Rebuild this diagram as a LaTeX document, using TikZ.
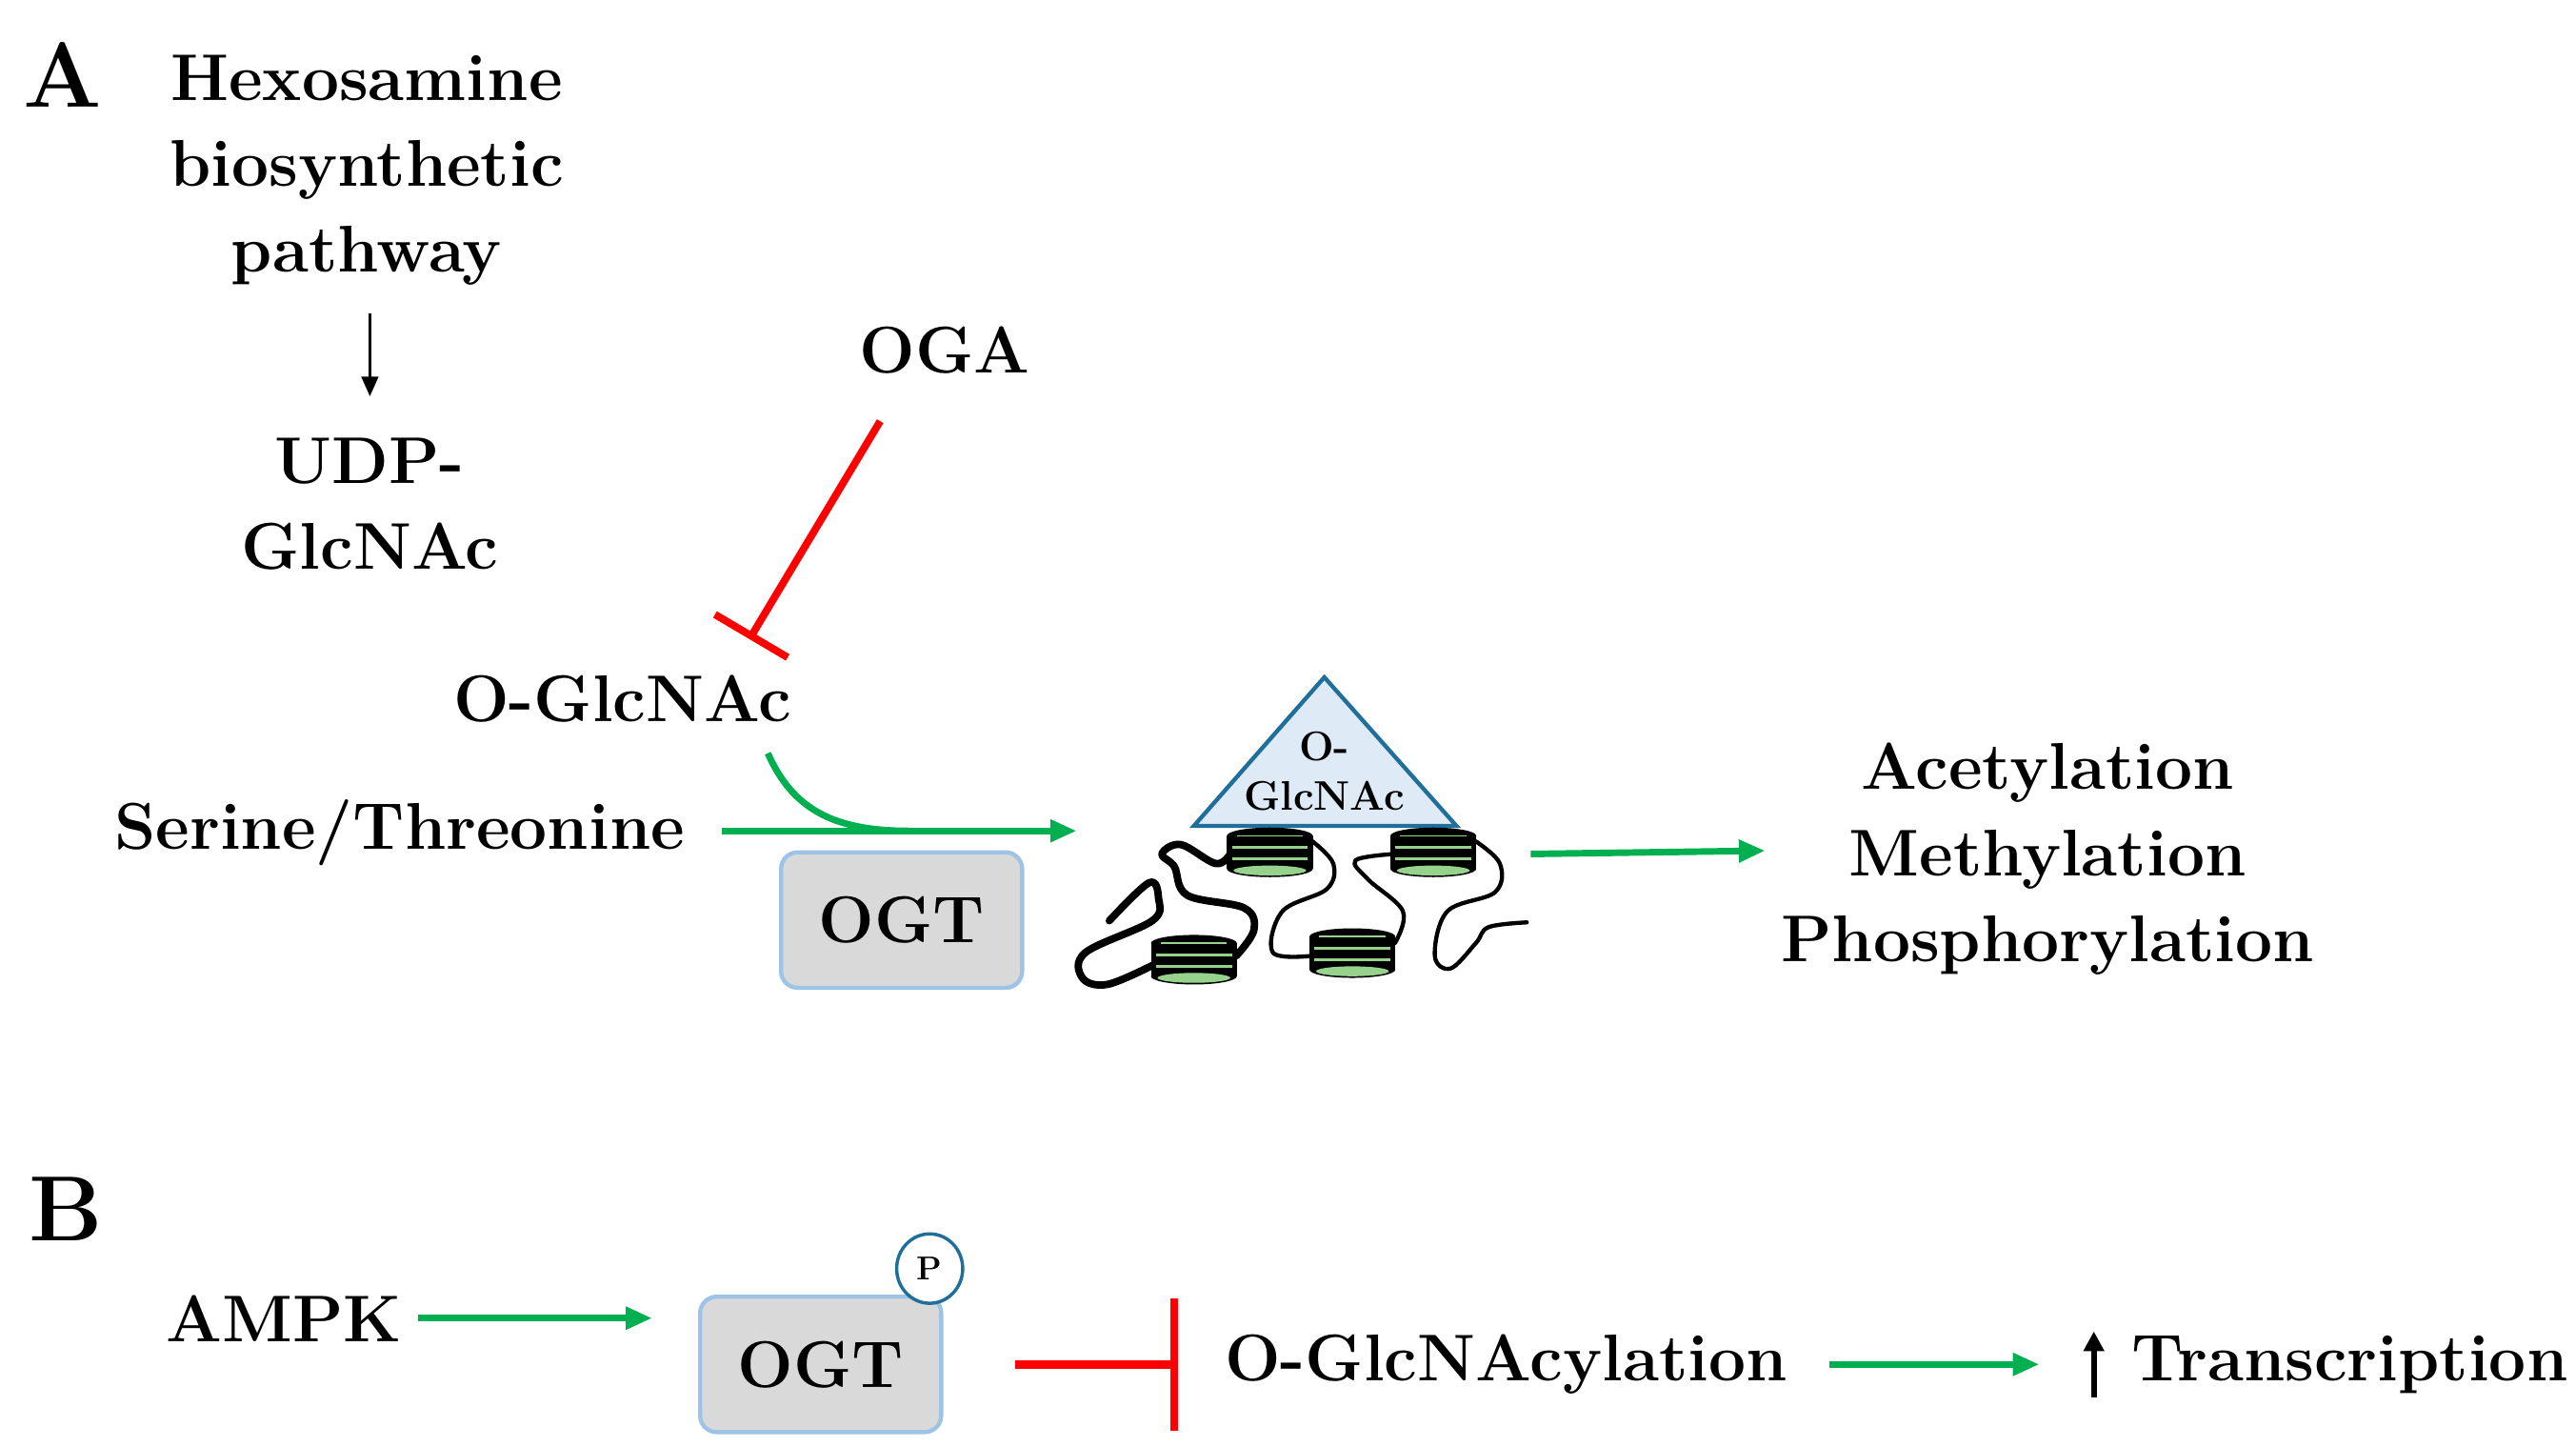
\documentclass[tikz,border=0pt]{standalone}
\usetikzlibrary{arrows.meta,calc,shapes.geometric}
\definecolor{grn}{HTML}{00B050}
\definecolor{rd}{HTML}{FF0000}
\definecolor{boxg}{HTML}{D9D9D9}
\definecolor{boxb}{HTML}{9DC3E6}
\definecolor{trif}{HTML}{DEEBF7}
\definecolor{trid}{HTML}{1F6F9A}
\definecolor{nucg}{HTML}{96D28C}
\begin{document}
\begin{tikzpicture}[x=1pt,y=-1pt,
 txt/.style={font=\fontsize{40}{52}\selectfont\bfseries,align=center,inner sep=0},
 lbl/.style={font=\fontsize{56}{60}\selectfont\bfseries,inner sep=0},
 garr/.style={grn,line width=4pt,-{Triangle[length=16pt,width=13pt]}},
 ogt/.style={draw=boxb,fill=boxg,line width=2.5pt,rounded corners=10pt,minimum width=146pt,minimum height=82pt,font=\fontsize{40}{48}\selectfont\bfseries},
 dna/.style={black,line cap=round,line join=round}]
\useasboundingbox (0,0) rectangle (1560,876);
\node[lbl] (A) at (38,45) {A};
\node[lbl] (B) at (40,732) {B};
\node[txt] (hbp) at (222,103) {Hexosamine\\biosynthetic\\pathway};
\node[txt] (udp) at (224,305) {UDP-\\GlcNAc};
\coordinate (h1) at (224,190); \coordinate (h2) at (224,240);
\draw[line width=2pt,-{Triangle[length=12pt,width=10pt]}] (h1) -- (h2);
\node[txt] (oga) at (572,212) {OGA};
\node[txt] (og) at (377,423) {O-GlcNAc};
\coordinate (r1) at (533,255); \coordinate (r2) at (455,385);
\coordinate (rb3) at (433,372); \coordinate (rb4) at (477,398);
\draw[rd,line width=4.5pt] (r1) -- (r2);
\draw[rd,line width=4.5pt] (rb3) -- (rb4);
\node[txt] (ser) at (242,504) {Serine/Threonine};
\coordinate (s1) at (437,503); \coordinate (s2) at (652,503);
\draw[garr] (s1) -- (s2);
\coordinate (c1) at (465,456); \coordinate (c2) at (550,503);
\draw[grn,line width=4pt] (c1) .. controls (480,490) and (505,503) .. (c2);
\node[ogt] (ogtA) at (546,557) {OGT};
% triangle
\coordinate (t1) at (802,410); \coordinate (t2) at (723,500); \coordinate (t3) at (882,500);
\draw[trid,fill=trif,line width=2.5pt,line join=miter] (t1) -- (t2) -- (t3) -- cycle;
\node[font=\fontsize{25}{30}\selectfont\bfseries,align=center,inner sep=0] (tx) at (802,467) {O-\\GlcNAc};
% DNA
\draw[dna,line width=4.5pt] plot[smooth,tension=0.6] coordinates {(671.8,557.4) (695.9,534.4) (701.6,544) (697.8,557.4) (657.4,576.6) (655.5,592) (670.9,595.9) (700,583.4)};
\draw[dna,line width=4.5pt] plot[smooth,tension=0.6] coordinates {(748.7,578.6) (759.3,563.2) (753.5,549.7) (719,542) (711.2,524.7) (703.6,517) (715.1,511.3) (736.2,522.8) (745,517)};
\draw[dna,line width=2.5pt] plot[smooth,tension=0.6] coordinates {(794.9,509.4) (807.4,522.8) (803.5,538.2) (776.6,551.7) (770.8,576.6) (795,578.6)};
\draw[dna,line width=2.5pt] plot[smooth,tension=0.6] coordinates {(844.8,570.9) (849.6,551.7) (828.5,532.4) (820.8,520.9) (843,517.1)};
\draw[dna,line width=2.5pt] plot[smooth,tension=0.6] coordinates {(893.8,509.4) (908.3,522.8) (905.4,540.1) (876.5,551.7) (868.9,578.6) (878.5,586.3) (893.8,570.9) (901.5,561.3) (924.6,558.4)};
\foreach \n/\x/\y in {n1/769/516,n2/868/516,n3/723/581,n4/819/577}{
 \coordinate (\n) at (\x,\y);
 \fill[black] (\x-26,\y-10) rectangle (\x+26,\y+10);
 \fill[black] (\x,\y-10) ellipse[x radius=26,y radius=5];
 \fill[black] (\x,\y+10) ellipse[x radius=26,y radius=5];
 \fill[nucg] (\x,\y+11) ellipse[x radius=22,y radius=3];
 \draw[nucg,line width=1.5pt] (\x-23,\y-3) -- (\x+23,\y-3);
 \draw[nucg,line width=1.5pt] (\x-23,\y+4) -- (\x+23,\y+4);
 \draw[nucg,line width=1pt] (\x-20,\y-10) -- (\x+20,\y-10);
}
\coordinate (a1) at (927,517); \coordinate (a2) at (1069,515);
\draw[garr] (a1) -- (a2);
\node[txt] (acm) at (1240,520) {Acetylation\\Methylation\\Phosphorylation};
% Panel B
\node[txt] (ampk) at (172,798) {AMPK};
\node[ogt] (ogtB) at (497,826) {OGT};
\coordinate (b1) at (253,798); \coordinate (b2) at (395,798);
\draw[garr] (b1) -- (b2);
\node[draw=trid,fill=white,line width=2pt,ellipse,minimum width=40pt,minimum height=42pt,inner sep=0,font=\fontsize{20}{24}\selectfont\bfseries] (P) at (563,768) {P};
\coordinate (rb1) at (615,826); \coordinate (rb2) at (711,826);
\coordinate (rv1) at (711,786); \coordinate (rv2) at (711,866);
\draw[rd,line width=5pt] (rb1) -- (rb2);
\draw[rd,line width=5pt] (rv1) -- (rv2);
\node[txt] (ogly) at (912,826) {O-GlcNAcylation};
\coordinate (g1) at (1108,826); \coordinate (g2) at (1235,826);
\draw[garr] (g1) -- (g2);
\coordinate (u1) at (1268,846); \coordinate (u2) at (1268,806);
\draw[line width=3.5pt,-{Triangle[length=12pt,width=12pt]}] (u1) -- (u2);
\node[txt] (tr) at (1423,826) {Transcription};
\end{tikzpicture}
\end{document}
